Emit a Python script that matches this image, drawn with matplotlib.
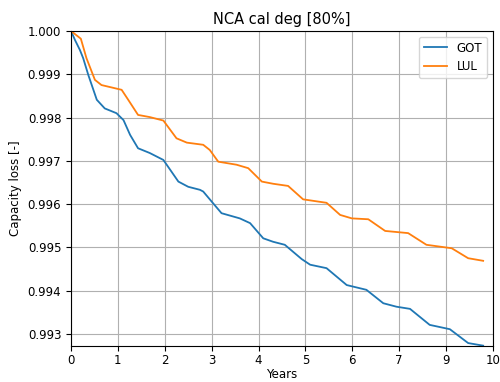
import matplotlib
matplotlib.use("Agg")
import matplotlib.pyplot as plt
from matplotlib.ticker import FormatStrFormatter

# Time axis positions (axis units) and capacity values for each chemistry
got_t = [0.0, 0.085, 0.19, 0.26, 0.37, 0.55, 0.72, 0.97, 1.12, 1.26, 1.43, 1.68,
         1.97, 2.29, 2.50, 2.75, 2.82, 3.03, 3.21, 3.60, 3.82, 4.10, 4.31, 4.56,
         4.92, 5.10, 5.45, 5.88, 6.30, 6.66, 6.94, 7.23, 7.65, 8.08, 8.47, 8.79]
got_cap = [1.0, 0.99979, 0.99956, 0.99937, 0.99898, 0.99841, 0.99821, 0.99810,
           0.99794, 0.99760, 0.99729, 0.99718, 0.99702, 0.99652, 0.99640, 0.99633,
           0.99629, 0.99602, 0.99579, 0.99567, 0.99556, 0.99521, 0.99513, 0.99506,
           0.99473, 0.99460, 0.99452, 0.99413, 0.99402, 0.99371, 0.99363, 0.99358,
           0.99321, 0.99311, 0.99279, 0.99273]

lul_t = [0.0, 0.21, 0.33, 0.51, 0.65, 1.08, 1.22, 1.43, 1.68, 1.97, 2.25, 2.47,
         2.82, 2.96, 3.14, 3.53, 3.78, 4.07, 4.31, 4.63, 4.95, 5.45, 5.74, 5.99,
         6.34, 6.70, 7.19, 7.58, 8.12, 8.47, 8.79]
lul_cap = [1.0, 0.99982, 0.99937, 0.99887, 0.99875, 0.99864, 0.99841, 0.99806,
           0.99801, 0.99793, 0.99752, 0.99742, 0.99737, 0.99725, 0.99698, 0.99691,
           0.99683, 0.99652, 0.99647, 0.99642, 0.99611, 0.99603, 0.99575, 0.99567,
           0.99565, 0.99538, 0.99533, 0.99506, 0.99498, 0.99475, 0.99469]

x_ticks = [0, 1, 2, 3, 4, 5, 6, 7, 8, 9]
x_ticklabels = ["0", "1", "2", "3", "4", "5", "6", "7", "9", "10"]

plt.rcParams["font.size"] = 8.5
plt.rcParams["axes.titlesize"] = 10.5

fig = plt.figure(figsize=(5.0, 3.82), dpi=100)
ax = fig.add_axes([0.142, 0.094, 0.844, 0.825])

ax.plot(got_t, got_cap, color="#1f77b4", lw=1.3, label="GOT")
ax.plot(lul_t, lul_cap, color="#ff7f0e", lw=1.3, label="LUL")

ax.set_xlim(0, 9)
ax.set_ylim(0.99272, 1.0)
ax.set_xticks(x_ticks)
ax.set_xticklabels(x_ticklabels)
ax.yaxis.set_major_formatter(FormatStrFormatter("%.3f"))
ax.tick_params(axis="x", pad=2.5)
ax.grid(True)

ax.set_title("NCA cal deg [80%]", pad=5)
ax.set_xlabel("Years", labelpad=0.5)
ax.set_ylabel("Capacity loss [-]")
ax.legend(loc="upper right")

fig.savefig("out.png", dpi=100)
